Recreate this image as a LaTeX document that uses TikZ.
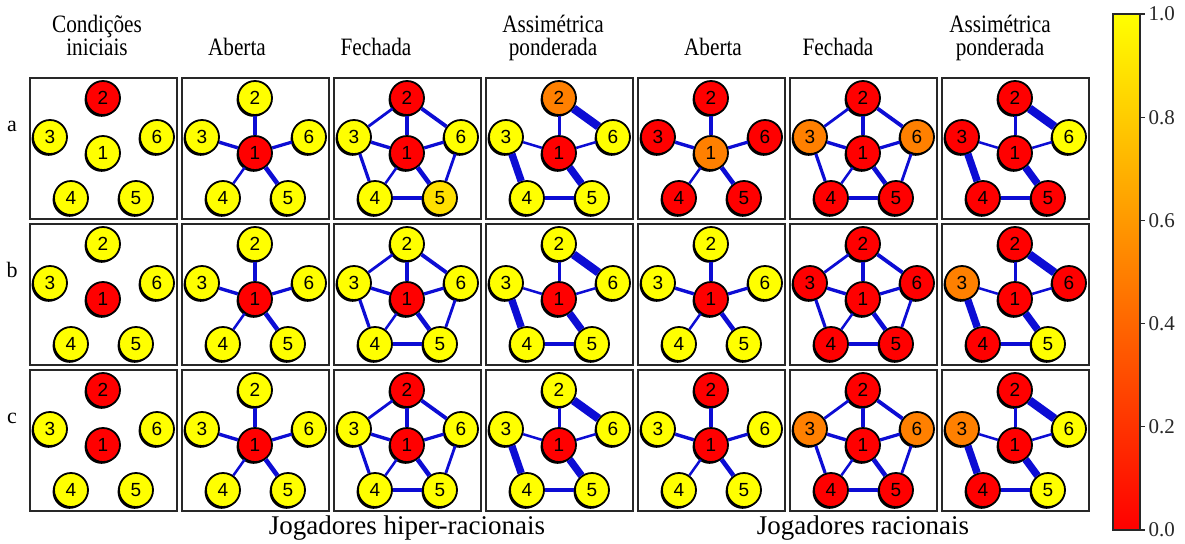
\documentclass[tikz,border=0pt]{standalone}
\usepackage{fontspec}
\setmainfont{Liberation Serif}
\newfontfamily\headfont[FakeStretch=0.85]{Liberation Serif}
\newfontfamily\digitfont{Liberation Sans}
\usepackage{tikz}
\usetikzlibrary{shadows}
\usepackage{xcolor}
\definecolor{cR}{RGB}{255,0,0}
\definecolor{cO}{RGB}{255,128,0}
\definecolor{cY}{RGB}{255,255,0}
\definecolor{cG}{RGB}{255,224,0}
\definecolor{linkblue}{RGB}{12,12,212}
\definecolor{framegray}{RGB}{40,40,40}
% one panel: name, column, row, colours of players 1..6
\newcommand{\drawpanel}[9]{%
\coordinate (#1) at ({30+152*#2},{78+146*#3});
\draw[panelframe] (#1) rectangle ++(147,141);
\node[player,fill=#4] (#1-1) at ([shift={(73,75)}]#1) {1};
\node[player,fill=#5] (#1-2) at ([shift={(73,20)}]#1) {2};
\node[player,fill=#6] (#1-3) at ([shift={(20,59)}]#1) {3};
\node[player,fill=#7] (#1-4) at ([shift={(41,120)}]#1) {4};
\node[player,fill=#8] (#1-5) at ([shift={(106,120)}]#1) {5};
\node[player,fill=#9] (#1-6) at ([shift={(127,59)}]#1) {6};
}
\newcommand{\aberta}[1]{%
\draw[link,line width=1.8pt] (#1-1) -- (#1-2);
\draw[link,line width=1.7pt] (#1-1) -- (#1-3);
\draw[link,line width=1.25pt] (#1-1) -- (#1-4);
\draw[link,line width=2.3pt] (#1-1) -- (#1-5);
\draw[link,line width=1.6pt] (#1-1) -- (#1-6);
}
\newcommand{\fechada}[1]{%
\aberta{#1}
\draw[link,line width=1.4pt] (#1-2) -- (#1-3);
\draw[link,line width=1.6pt] (#1-3) -- (#1-4);
\draw[link,line width=2.3pt] (#1-4) -- (#1-5);
\draw[link,line width=1.4pt] (#1-5) -- (#1-6);
\draw[link,line width=1.9pt] (#1-6) -- (#1-2);
}
\newcommand{\assimetrica}[1]{%
\draw[link,line width=1.5pt] (#1-1) -- (#1-2);
\draw[link,line width=1.25pt] (#1-1) -- (#1-3);
\draw[link,line width=1.25pt] (#1-1) -- (#1-6);
\draw[link,line width=4.2pt] (#1-2) -- (#1-6);
\draw[link,line width=3.7pt] (#1-3) -- (#1-4);
\draw[link,line width=3.7pt] (#1-1) -- (#1-5);
\draw[link,line width=2pt] (#1-4) -- (#1-5);
}

\begin{document}
\begin{tikzpicture}[x=0.5pt,y=-0.5pt]
\tikzstyle{player}=[circle,draw=black,line width=0.9pt,minimum size=17pt,inner sep=0pt,
  font=\digitfont\fontsize{9.5}{9.5}\selectfont,
  drop shadow={shadow xshift=-0.7pt,shadow yshift=-0.9pt,fill=black,opacity=1}]
\tikzstyle{panelframe}=[draw=framegray,line width=0.75pt]
\tikzstyle{link}=[draw=linkblue]
\tikzstyle{head}=[font=\headfont\fontsize{12.5}{11.5}\selectfont,align=center,anchor=south,text depth=3pt,inner sep=0pt]
\tikzstyle{rowlabel}=[font=\fontsize{11}{11}\selectfont,anchor=base,inner sep=0pt]
\tikzstyle{foot}=[font=\fontsize{13.5}{14}\selectfont,anchor=base,inner sep=0pt]
\useasboundingbox (0,0) rectangle (1185,543);

% column titles
\node[head] (h0) at (97,62) {Condições\\iniciais};
\node[head] (h1) at (237,62) {Aberta};
\node[head] (h2) at (376,62) {Fechada};
\node[head] (h3) at (553,62) {Assimétrica\\ponderada};
\node[head] (h4) at (713,62) {Aberta};
\node[head] (h5) at (838,62) {Fechada};
\node[head] (h6) at (1000,62) {Assimétrica\\ponderada};

% row labels
\node[rowlabel] (ra) at (12,131) {a};
\node[rowlabel] (rb) at (12,277) {b};
\node[rowlabel] (rc) at (12,423) {c};

% row a
\drawpanel{a0}{0}{0}{cY}{cR}{cY}{cY}{cY}{cY}
\drawpanel{a1}{1}{0}{cR}{cY}{cY}{cY}{cY}{cY}
\drawpanel{a2}{2}{0}{cR}{cR}{cY}{cY}{cG}{cY}
\drawpanel{a3}{3}{0}{cR}{cO}{cY}{cY}{cY}{cY}
\drawpanel{a4}{4}{0}{cO}{cR}{cR}{cR}{cR}{cR}
\drawpanel{a5}{5}{0}{cR}{cR}{cO}{cR}{cR}{cO}
\drawpanel{a6}{6}{0}{cR}{cR}{cR}{cR}{cR}{cY}
\aberta{a1} \fechada{a2} \assimetrica{a3}
\aberta{a4} \fechada{a5} \assimetrica{a6}

% row b
\drawpanel{b0}{0}{1}{cR}{cY}{cY}{cY}{cY}{cY}
\drawpanel{b1}{1}{1}{cR}{cY}{cY}{cY}{cY}{cY}
\drawpanel{b2}{2}{1}{cR}{cY}{cY}{cY}{cY}{cY}
\drawpanel{b3}{3}{1}{cR}{cY}{cY}{cY}{cY}{cY}
\drawpanel{b4}{4}{1}{cR}{cY}{cY}{cY}{cY}{cY}
\drawpanel{b5}{5}{1}{cR}{cR}{cR}{cR}{cR}{cR}
\drawpanel{b6}{6}{1}{cR}{cR}{cO}{cR}{cY}{cR}
\aberta{b1} \fechada{b2} \assimetrica{b3}
\aberta{b4} \fechada{b5} \assimetrica{b6}

% row c
\drawpanel{c0}{0}{2}{cR}{cR}{cY}{cY}{cY}{cY}
\drawpanel{c1}{1}{2}{cR}{cY}{cY}{cY}{cY}{cY}
\drawpanel{c2}{2}{2}{cR}{cR}{cY}{cY}{cY}{cY}
\drawpanel{c3}{3}{2}{cR}{cY}{cY}{cY}{cY}{cY}
\drawpanel{c4}{4}{2}{cR}{cR}{cY}{cY}{cY}{cY}
\drawpanel{c5}{5}{2}{cR}{cR}{cO}{cR}{cR}{cO}
\drawpanel{c6}{6}{2}{cR}{cR}{cO}{cR}{cY}{cY}
\aberta{c1} \fechada{c2} \assimetrica{c3}
\aberta{c4} \fechada{c5} \assimetrica{c6}

% group titles
\node[foot] (hyper) at (407,534) {Jogadores hiper-racionais};
\node[foot] (rational) at (863,534) {Jogadores racionais};

% colour bar
\shade[bottom color=cR,top color=cY] (1113,530) rectangle (1140,14);
\draw[panelframe] (1113,530) rectangle (1140,14);
\foreach \v/\lab in {0/0.0,1/0.2,2/0.4,3/0.6,4/0.8,5/1.0}{
  \draw[framegray,line width=0.6pt] (1140,530-103.2*\v) -- ++(5,0)
    node[anchor=west,inner sep=1.5pt,font=\fontsize{10.5}{11}\selectfont] (tick\v) {\lab};
}
\end{tikzpicture}
\end{document}
